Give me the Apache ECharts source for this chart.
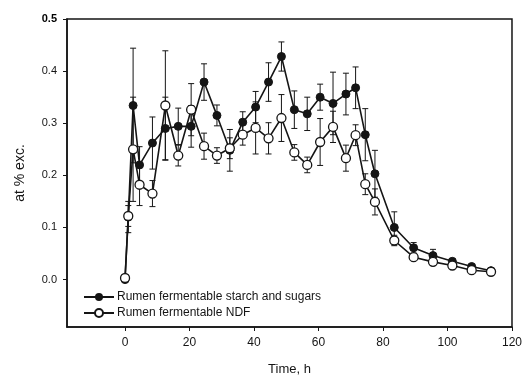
<!DOCTYPE html>
<html>
<head>
<meta charset="utf-8">
<script src="https://cdn.jsdelivr.net/npm/echarts@6/dist/echarts.min.js"></script>
<style>
  html, body { margin: 0; padding: 0; background: #fff; }
  #chart { width: 525px; height: 381px; }
</style>
</head>
<body>
<div id="chart"></div>
<script>
// sampling times (h)
const times = [0, 1, 2.5, 4.5, 8.5, 12.5, 16.5, 20.5, 24.5, 28.5, 32.5, 36.5, 40.5, 44.5, 48.5,
  52.5, 56.5, 60.5, 64.5, 68.5, 71.5, 74.5, 77.5, 83.5, 89.5, 95.5, 101.5, 107.5, 113.5];

// Rumen fermentable starch and sugars (filled)
const starch = [0, 0.12, 0.334, 0.22, 0.262, 0.29, 0.294, 0.294, 0.379, 0.315, 0.248, 0.302, 0.331, 0.379, 0.428,
  0.326, 0.318, 0.35, 0.338, 0.356, 0.368, 0.278, 0.203, 0.1, 0.061, 0.046, 0.035, 0.025, 0.017];
const starchErr = [0, 0.03, 0.11, 0.035, 0.05, 0.06, 0.035, 0.04, 0.035, 0.02, 0.04, 0.02, 0.03, 0.037, 0.028,
  0.036, 0.032, 0.025, 0.06, 0.04, 0.04, 0.05, 0.045, 0.03, 0.01, 0.012, 0.005, 0.004, 0.003];

// Rumen fermentable NDF (open)
const ndf = [0.003, 0.122, 0.25, 0.182, 0.165, 0.334, 0.238, 0.326, 0.256, 0.238, 0.252, 0.278, 0.291, 0.271, 0.31,
  0.244, 0.22, 0.264, 0.293, 0.233, 0.277, 0.183, 0.149, 0.075, 0.043, 0.034, 0.027, 0.018, 0.015];
const ndfErr = [0, 0.02, 0.1, 0.04, 0.025, 0.105, 0.02, 0.05, 0.025, 0.015, 0.02, 0.02, 0.05, 0.03, 0.045,
  0.015, 0.015, 0.045, 0.03, 0.025, 0.02, 0.02, 0.025, 0.01, 0.005, 0.005, 0.005, 0.004, 0.004];

const xTicks = [0, 20, 40, 60, 80, 100, 120];
const yTicks = [0, 0.1, 0.2, 0.3, 0.4, 0.5];

const ink = '#151515';
const font = 'Liberation Sans, Arial, sans-serif';

const pairs = (ys) => times.map((t, i) => [t, ys[i]]);
const bars = (ys, es) => times.map((t, i) => [t, ys[i] - es[i], ys[i] + es[i]]);

// error bars with small caps, drawn through the axes
function errorBar(params, api) {
  const x = api.value(0);
  const lo = api.coord([x, api.value(1)]);
  const hi = api.coord([x, api.value(2)]);
  const w = 3;
  const st = { stroke: ink, lineWidth: 1 };
  return {
    type: 'group',
    children: [
      { type: 'line', shape: { x1: lo[0], y1: lo[1], x2: hi[0], y2: hi[1] }, style: st },
      { type: 'line', shape: { x1: lo[0] - w, y1: lo[1], x2: lo[0] + w, y2: lo[1] }, style: st },
      { type: 'line', shape: { x1: hi[0] - w, y1: hi[1], x2: hi[0] + w, y2: hi[1] }, style: st }
    ]
  };
}

const chart = echarts.init(document.getElementById('chart'));
chart.setOption({
  animation: false,
  backgroundColor: '#fff',
  textStyle: { fontFamily: font },
  grid: {
    left: 67, right: 11, top: 19, bottom: 50,
    show: true, borderColor: ink, borderWidth: 1.5
  },
  legend: {
    data: ['Rumen fermentable starch and sugars', 'Rumen fermentable NDF'],
    orient: 'vertical',
    left: 78, top: 286,
    itemWidth: 30, itemHeight: 10, itemGap: 4,
    textStyle: { fontSize: 12, color: ink, fontFamily: font, padding: [0, 0, 0, -2] }
  },
  xAxis: {
    type: 'value',
    min: -18, max: 120,
    name: 'Time, h',
    nameLocation: 'middle',
    nameGap: 36,
    nameTextStyle: { fontSize: 13, color: ink },
    axisLine: { show: true, onZero: false, lineStyle: { color: ink, width: 1.5 } },
    axisTick: { show: true, length: 4, customValues: xTicks, lineStyle: { color: ink } },
    axisLabel: { customValues: xTicks, fontSize: 12, color: ink, margin: 10 },
    splitLine: { show: false }
  },
  yAxis: {
    type: 'value',
    min: -0.091, max: 0.5,
    name: 'at % exc.',
    nameLocation: 'middle',
    nameGap: 40,
    nameTextStyle: { fontSize: 14, color: ink },
    axisLine: { show: true, onZero: false, lineStyle: { color: ink, width: 1.5 } },
    axisTick: { show: true, length: 4, customValues: yTicks, lineStyle: { color: ink } },
    axisLabel: {
      customValues: yTicks,
      fontSize: 11, color: ink, margin: 10,
      formatter: (v) => (v >= 0.5 ? '{b|' + v.toFixed(1) + '}' : v.toFixed(1)),
      rich: { b: { fontSize: 11, fontWeight: 'bold', color: '#000' } }
    },
    splitLine: { show: false }
  },
  series: [
    {
      name: 'starchErr', type: 'custom', renderItem: errorBar,
      data: bars(starch, starchErr), encode: { x: 0, y: [1, 2] }, z: 1, silent: true
    },
    {
      name: 'ndfErr', type: 'custom', renderItem: errorBar,
      data: bars(ndf, ndfErr), encode: { x: 0, y: [1, 2] }, z: 1, silent: true
    },
    {
      name: 'Rumen fermentable starch and sugars',
      type: 'line',
      data: pairs(starch),
      symbol: 'circle', symbolSize: 8,
      itemStyle: { color: ink, borderColor: ink },
      lineStyle: { color: ink, width: 1.6 },
      z: 3
    },
    {
      name: 'Rumen fermentable NDF',
      type: 'line',
      data: pairs(ndf),
      symbol: 'circle', symbolSize: 9,
      showAllSymbol: true,
      itemStyle: { color: '#fff', borderColor: ink, borderWidth: 1.3 },
      lineStyle: { color: ink, width: 1.6 },
      z: 4
    }
  ]
});
</script>
</body>
</html>
